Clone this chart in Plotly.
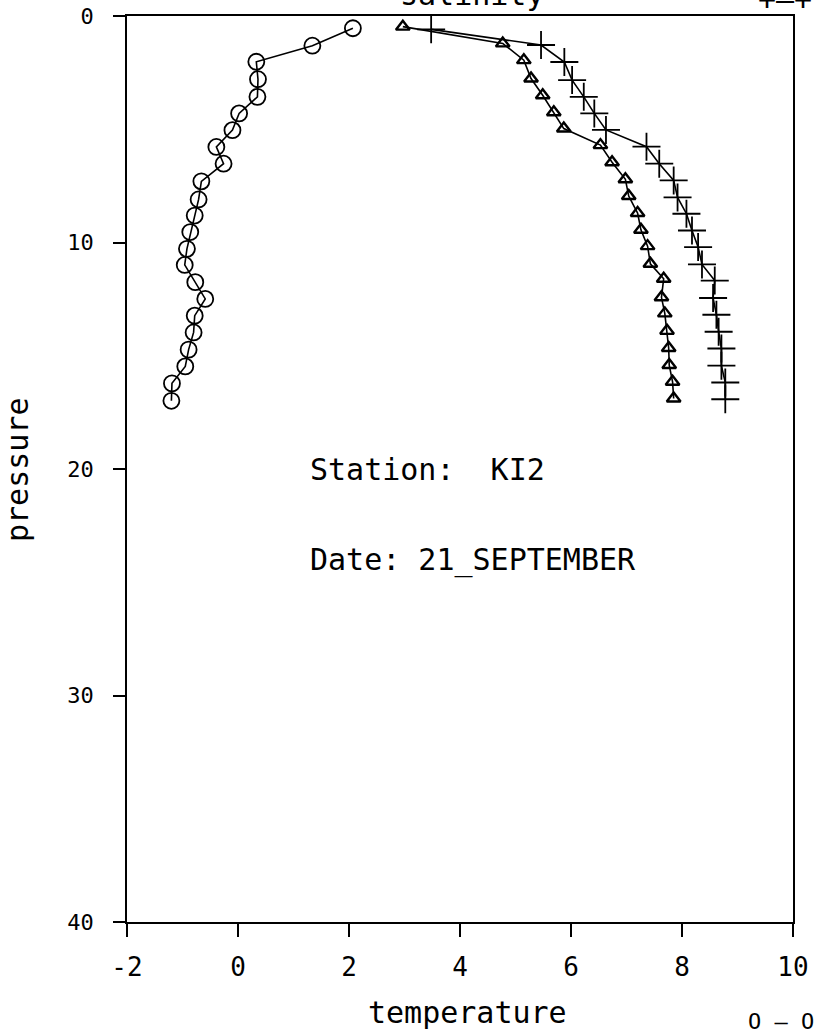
import plotly.graph_objects as go

# ---- data ----
pressure_circ = [0.54, 1.31, 2.02, 2.79, 3.57, 4.30, 5.04, 5.78, 6.52, 7.30, 8.10, 8.81,
                 9.54, 10.28, 10.99, 11.75, 12.49, 13.23, 13.97, 14.73, 15.47, 16.22, 16.99]
temp_circ = [2.07, 1.34, 0.33, 0.36, 0.35, 0.02, -0.10, -0.39, -0.26, -0.66, -0.71, -0.78,
             -0.86, -0.92, -0.96, -0.77, -0.59, -0.78, -0.80, -0.89, -0.95, -1.19, -1.20]

pressure_tri = [0.47, 1.21, 1.95, 2.76, 3.50, 4.25, 4.97, 5.70, 6.46, 7.21, 7.95, 8.70,
                9.44, 10.16, 10.94, 11.60, 12.42, 13.13, 13.90, 14.66, 15.41, 16.15, 16.89]
value_tri = [2.97, 4.77, 5.15, 5.28, 5.49, 5.69, 5.87, 6.53, 6.74, 6.98, 7.04, 7.20,
             7.26, 7.38, 7.43, 7.67, 7.63, 7.69, 7.73, 7.76, 7.77, 7.83, 7.85]

pressure_cross = [0.59, 1.28, 2.03, 2.83, 3.57, 4.30, 5.03, 5.77, 6.52, 7.26, 8.01, 8.73,
                  9.47, 10.20, 10.97, 11.68, 12.45, 13.19, 13.94, 14.68, 15.44, 16.18, 16.92]
value_cross = [3.48, 5.46, 5.88, 6.02, 6.23, 6.42, 6.63, 7.36, 7.59, 7.85, 7.92, 8.08,
               8.18, 8.29, 8.36, 8.59, 8.56, 8.62, 8.66, 8.71, 8.71, 8.78, 8.78]

x_ticks = [-2, 0, 2, 4, 6, 8, 10]
y_ticks = [0, 10, 20, 30, 40]

station_text = "Station:  KI2"
date_text = "Date: 21_SEPTEMBER"

FONT = "DejaVu Sans Mono"

fig = go.Figure()
fig.add_trace(go.Scatter(
    x=temp_circ, y=pressure_circ, mode="lines+markers",
    line=dict(color="black", width=1.6),
    marker=dict(symbol="circle-open", size=16, color="black", line=dict(width=1.8)),
    showlegend=False))
fig.add_trace(go.Scatter(
    x=value_tri, y=pressure_tri, mode="lines+markers",
    line=dict(color="black", width=1.6),
    marker=dict(symbol="triangle-up-open", size=12, color="black", line=dict(width=2.4)),
    showlegend=False))
fig.add_trace(go.Scatter(
    x=value_cross, y=pressure_cross, mode="lines+markers",
    line=dict(color="black", width=1.6),
    marker=dict(symbol="cross-thin-open", size=20, color="black", line=dict(width=1.8)),
    showlegend=False))

L, R, T, B = 127, 22, 16, 112
W, H = 815, 1034
pw, ph = W - L - R, H - T - B

def px_x(p):
    return (p - L) / pw

def px_y(p):
    return 1 - (p - T) / ph

fig.update_layout(
    width=W, height=H,
    margin=dict(l=L, r=R, t=T, b=B, autoexpand=False),
    paper_bgcolor="white", plot_bgcolor="white",
    font=dict(family=FONT, color="black"),
    xaxis=dict(range=[-2, 10], tickvals=x_ticks, ticktext=[str(v) for v in x_ticks],
               automargin=False,
               showgrid=False, zeroline=False, showline=True, linecolor="black",
               linewidth=1.5, mirror=True, ticks="outside", ticklen=13, tickwidth=1.5,
               tickcolor="black", tickfont=dict(family=FONT, size=26),
               ticklabelstandoff=8),
    yaxis=dict(range=[40, 0], tickvals=y_ticks, ticktext=[str(v) for v in y_ticks],
               automargin=False,
               showgrid=False, zeroline=False, showline=True, linecolor="black",
               linewidth=1.5, mirror=True, ticks="outside", ticklen=12, tickwidth=1.5,
               tickcolor="black", tickfont=dict(family=FONT, size=22),
               ticklabelstandoff=15),
    annotations=[
        dict(text=station_text, x=1.27, y=20, xref="x", yref="y", xanchor="left",
             yanchor="middle", showarrow=False, font=dict(family=FONT, size=30)),
        dict(text=date_text, x=1.27, y=24.0, xref="x", yref="y", xanchor="left",
             yanchor="middle", showarrow=False, font=dict(family=FONT, size=30)),
        dict(text="temperature", x=px_x(467), y=px_y(1012), xref="paper", yref="paper",
             xanchor="center", yanchor="middle", showarrow=False,
             font=dict(family=FONT, size=30)),
        dict(text="pressure", x=px_x(17), y=px_y(470), xref="paper", yref="paper",
             xanchor="center", yanchor="middle", textangle=-90, showarrow=False,
             font=dict(family=FONT, size=30)),
        dict(text="salinity", x=px_x(472), y=px_y(-5), xref="paper", yref="paper",
             xanchor="center", yanchor="middle", showarrow=False,
             font=dict(family=FONT, size=30)),
        dict(text="+\u2014+", x=px_x(785), y=px_y(-1), xref="paper", yref="paper",
             xanchor="center", yanchor="middle", showarrow=False,
             font=dict(family=FONT, size=30)),
        dict(text="O \u2014 O", x=px_x(781), y=px_y(1021), xref="paper", yref="paper",
             xanchor="center", yanchor="middle", showarrow=False,
             font=dict(family=FONT, size=22)),
    ],
)

fig.write_html("out.html",
               config={"displayModeBar": False},
               post_script="document.body.style.margin='0';document.body.style.padding='0';")
